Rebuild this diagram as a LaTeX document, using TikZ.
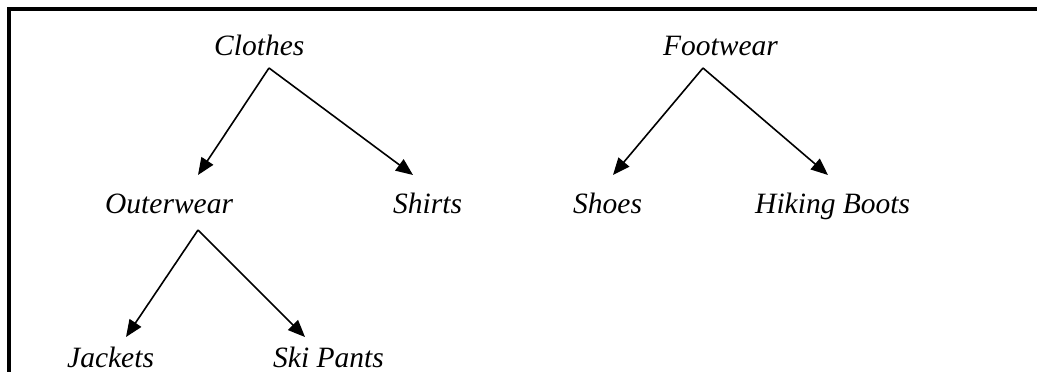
\documentclass[tikz,border=0pt]{standalone}
\usepackage{fontspec}
\setmainfont{Liberation Serif}
\usetikzlibrary{arrows.meta}
\begin{document}
\begin{tikzpicture}[x=1pt,y=-1pt,
  label/.style={anchor=base west,inner sep=0pt,font=\fontsize{29.5}{34}\selectfont\itshape},
  link/.style={line width=1.6pt,-{Triangle[length=17pt,width=14pt]}}]
\useasboundingbox (0,0) rectangle (1037,372);
% frame edges
\draw[line width=4pt] (9,372) -- (9,9) -- (1037,9);
% category labels
\node[label] (clothes) at (214,55) {Clothes};
\node[label] (footwear) at (663,55) {Footwear};
\node[label] (outerwear) at (105,213) {Outerwear};
\node[label] (shirts) at (393,213) {Shirts};
\node[label] (shoes) at (573,213) {Shoes};
\node[label] (hiking) at (755,213) {Hiking Boots};
\node[label] (jackets) at (67,367) {Jackets};
\node[label] (skipants) at (273,367) {Ski Pants};
% connector ends
\coordinate (clothesA) at (269,68);
\coordinate (footwearA) at (703,68);
\coordinate (outerwearA) at (198,230);
\coordinate (outerwearT) at (198,175);
\coordinate (shirtsT) at (413,175);
\coordinate (shoesT) at (613,175);
\coordinate (hikingT) at (828,175);
\coordinate (jacketsT) at (126,337);
\coordinate (skipantsT) at (305,337);
% connectors
\draw[link] (clothesA) -- (outerwearT);
\draw[link] (clothesA) -- (shirtsT);
\draw[link] (footwearA) -- (shoesT);
\draw[link] (footwearA) -- (hikingT);
\draw[link] (outerwearA) -- (jacketsT);
\draw[link] (outerwearA) -- (skipantsT);
\end{tikzpicture}
\end{document}
